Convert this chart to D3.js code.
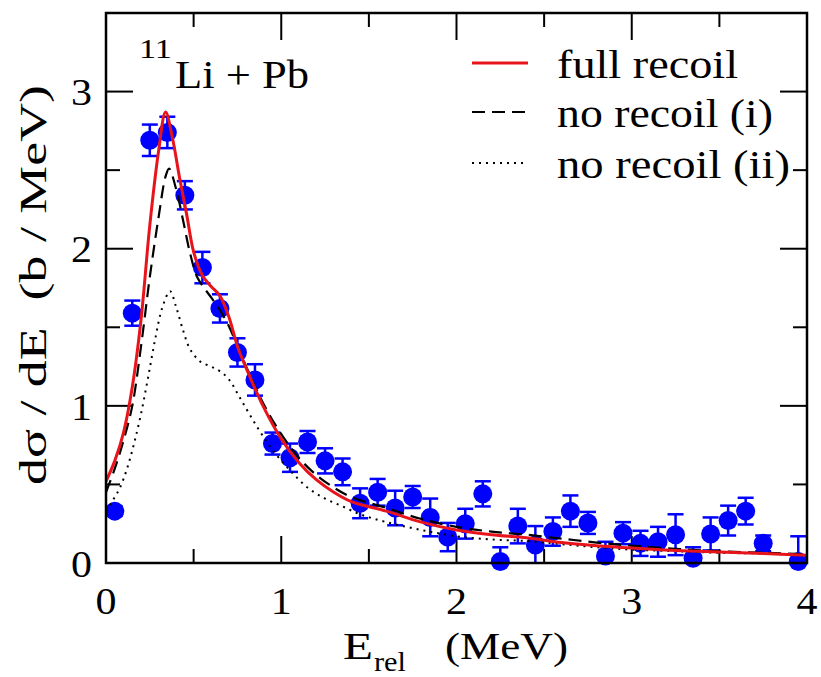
<!DOCTYPE html>
<html>
<head>
<meta charset="utf-8">
<script src="https://cdn.jsdelivr.net/npm/d3@7"></script>
<style>
  html, body { margin: 0; padding: 0; background: #fff; }
  svg { display: block; }
  text { font-family: "Liberation Serif", "Tinos", "Times New Roman", "Nimbus Roman", "FreeSerif", "DejaVu Serif", serif; fill: #000; }
</style>
</head>
<body>
<svg id="chart" width="821" height="677"></svg>
<script>
// ---- Data ----
const dataE = [0.05,0.15,0.25,0.35,0.45,0.55,0.65,0.75,0.85,0.95,1.05,1.15,1.25,1.35,1.45,1.55,1.65,1.75,1.85,1.95,2.05,2.15,2.25,2.35,2.45,2.55,2.65,2.75,2.85,2.95,3.05,3.15,3.25,3.35,3.45,3.55,3.65,3.75,3.95];
const dataY = [0.33,1.59,2.69,2.74,2.34,1.88,1.62,1.34,1.165,0.76,0.67,0.77,0.65,0.58,0.38,0.45,0.35,0.42,0.29,0.165,0.25,0.44,0.01,0.235,0.115,0.20,0.33,0.255,0.045,0.19,0.125,0.135,0.18,0.03,0.185,0.27,0.33,0.125,0.01];
const dataErr = [0.03,0.08,0.10,0.10,0.09,0.10,0.09,0.09,0.10,0.07,0.09,0.07,0.08,0.085,0.095,0.085,0.11,0.07,0.12,0.09,0.095,0.08,0.09,0.11,0.12,0.09,0.10,0.07,0.09,0.07,0.08,0.095,0.13,0.07,0.105,0.095,0.085,0.05,0.16];

const fullE = [0,0.05,0.10,0.15,0.20,0.25,0.30,0.34,0.38,0.42,0.46,0.50,0.55,0.60,0.65,0.70,0.75,0.80,0.90,1.00,1.10,1.20,1.30,1.40,1.60,1.80,2.00,2.20,2.40,2.60,2.80,3.00,3.25,3.50,3.75,4.00];
const fullY = [0.52,0.65,0.83,1.12,1.55,2.15,2.62,2.87,2.70,2.45,2.22,1.98,1.83,1.76,1.70,1.57,1.38,1.24,0.99,0.79,0.64,0.53,0.45,0.39,0.33,0.26,0.21,0.18,0.16,0.13,0.11,0.095,0.08,0.07,0.06,0.05];

const noRecoil1E = [0,0.05,0.10,0.15,0.20,0.25,0.30,0.34,0.36,0.40,0.44,0.48,0.52,0.56,0.60,0.65,0.70,0.75,0.80,0.90,1.00,1.10,1.20,1.30,1.40,1.60,1.80,2.00,2.20,2.40,2.60,2.80,3.00,3.25,3.50,3.75,4.00];
const noRecoil1Y = [0.45,0.60,0.78,1.00,1.38,1.82,2.20,2.46,2.51,2.38,2.18,1.97,1.82,1.75,1.69,1.61,1.51,1.38,1.25,1.01,0.82,0.67,0.56,0.48,0.42,0.35,0.28,0.23,0.20,0.18,0.155,0.13,0.11,0.09,0.075,0.065,0.055];

const noRecoil2E = [0,0.04,0.08,0.12,0.16,0.20,0.24,0.28,0.32,0.365,0.40,0.44,0.48,0.54,0.60,0.65,0.70,0.77,0.86,0.95,1.05,1.15,1.25,1.35,1.45,1.60,1.80,2.00,2.20,2.40,2.60,2.80,3.00,3.25,3.50,3.75,4.00];
const noRecoil2Y = [0.33,0.40,0.48,0.60,0.76,0.95,1.18,1.42,1.62,1.73,1.63,1.48,1.36,1.28,1.25,1.22,1.17,1.04,0.87,0.72,0.59,0.48,0.41,0.36,0.31,0.26,0.21,0.17,0.15,0.14,0.12,0.10,0.085,0.075,0.065,0.06,0.05];

const xTicks = [0,1,2,3,4];
const yTicks = [0,1,2,3];
const legendLabels = ["full recoil", "no recoil (i)", "no recoil (ii)"];

// ---- Layout ----
const svg = d3.select("#chart");
const L = 106, R = 807, T = 13, B = 563;
const x = d3.scaleLinear().domain([0,4]).range([L,R]);
const y = d3.scaleLinear().domain([0,3.5]).range([B,T]);

const blue = "#0000ff", red = "#e8141c";

svg.append("clipPath").attr("id","clip").append("rect")
  .attr("x",L).attr("y",T).attr("width",R-L).attr("height",B-T);

// ---- Ticks (inward, on all four sides) ----
const major = 27, minor = 14;
const tickG = svg.append("g").attr("stroke","#000").attr("stroke-width",2);
d3.range(0, 4.001, 0.5).forEach(v => {
  const len = Math.abs(v - Math.round(v)) < 1e-6 ? major : minor;
  if (v > 0 && v < 4) {
    tickG.append("line").attr("x1",x(v)).attr("x2",x(v)).attr("y1",B).attr("y2",B-len);
    tickG.append("line").attr("x1",x(v)).attr("x2",x(v)).attr("y1",T).attr("y2",T+len);
  }
});
d3.range(0, 3.501, 0.5).forEach(v => {
  const len = Math.abs(v - Math.round(v)) < 1e-6 ? major : minor;
  if (v > 0 && v < 3.5) {
    tickG.append("line").attr("x1",L).attr("x2",L+len).attr("y1",y(v)).attr("y2",y(v));
    tickG.append("line").attr("x1",R).attr("x2",R-len).attr("y1",y(v)).attr("y2",y(v));
  }
});

// tick labels
svg.append("g").selectAll("text").data(xTicks).join("text")
  .attr("x", d => x(d)).attr("y", 614)
  .attr("text-anchor","middle").attr("font-size",38)
  .attr("textLength",21).attr("lengthAdjust","spacingAndGlyphs")
  .text(d => d);
svg.append("g").selectAll("text").data(yTicks).join("text")
  .attr("x", 92).attr("y", d => y(d)).attr("dy","0.36em")
  .attr("text-anchor","end").attr("font-size",38)
  .attr("textLength",21).attr("lengthAdjust","spacingAndGlyphs")
  .text(d => d);

// ---- Data points with error bars ----
const pts = dataE.map((e,i) => ({e, v: dataY[i], err: dataErr[i]}));
const ptG = svg.append("g").attr("clip-path","url(#clip)");
const cap = 8;
const eb = ptG.append("g").attr("stroke",blue).attr("stroke-width",2.5);
pts.forEach(p => {
  eb.append("line").attr("x1",x(p.e)).attr("x2",x(p.e)).attr("y1",y(p.v+p.err)).attr("y2",y(p.v-p.err));
  eb.append("line").attr("x1",x(p.e)-cap).attr("x2",x(p.e)+cap).attr("y1",y(p.v+p.err)).attr("y2",y(p.v+p.err));
  eb.append("line").attr("x1",x(p.e)-cap).attr("x2",x(p.e)+cap).attr("y1",y(p.v-p.err)).attr("y2",y(p.v-p.err));
});
svg.append("g").selectAll("circle").data(pts).join("circle")
  .attr("cx", d => x(d.e)).attr("cy", d => y(d.v)).attr("r", 9.5)
  .attr("fill", blue);

// ---- Curves ----
const line = d3.line().x(d => x(d[0])).y(d => y(d[1])).curve(d3.curveCatmullRom.alpha(0.5));
const curveG = svg.append("g").attr("clip-path","url(#clip)").attr("fill","none");
curveG.append("path").datum(noRecoil2E.map((e,i)=>[e,noRecoil2Y[i]]))
  .attr("d", line).attr("stroke","#000").attr("stroke-width",2).attr("stroke-dasharray","2,5");
curveG.append("path").datum(noRecoil1E.map((e,i)=>[e,noRecoil1Y[i]]))
  .attr("d", line).attr("stroke","#000").attr("stroke-width",2.2).attr("stroke-dasharray","13,7");
curveG.append("path").datum(fullE.map((e,i)=>[e,fullY[i]]))
  .attr("d", line).attr("stroke",red).attr("stroke-width",3);

// ---- Frame ----
svg.append("rect").attr("x",L).attr("y",T).attr("width",R-L).attr("height",B-T)
  .attr("fill","none").attr("stroke","#000").attr("stroke-width",2.5);

// ---- Legend ----
const legY = [63, 112, 163];
const legW = [181, 216, 233];
const legStyles = [
  {stroke: red, w: 3, dash: null},
  {stroke: "#000", w: 2.2, dash: "13,7"},
  {stroke: "#000", w: 2, dash: "2,5"}
];
const legG = svg.append("g");
legendLabels.forEach((lab,i) => {
  const ln = legG.append("line").attr("x1",472).attr("x2",528).attr("y1",legY[i]).attr("y2",legY[i])
    .attr("stroke",legStyles[i].stroke).attr("stroke-width",legStyles[i].w);
  if (legStyles[i].dash) ln.attr("stroke-dasharray",legStyles[i].dash);
  legG.append("text").attr("x",557).attr("y",legY[i]+15).attr("font-size",41)
    .attr("textLength",legW[i]).attr("lengthAdjust","spacingAndGlyphs").text(lab);
});

// ---- Reaction label ----
svg.append("text").attr("x",139).attr("y",58).attr("font-size",28)
  .attr("textLength",33).attr("lengthAdjust","spacingAndGlyphs").text("11");
svg.append("text").attr("x",175).attr("y",88).attr("font-size",41)
  .attr("textLength",134).attr("lengthAdjust","spacingAndGlyphs").text("Li + Pb");

// ---- Axis titles ----
svg.append("text").attr("x",343).attr("y",659).attr("font-size",38)
  .attr("textLength",30).attr("lengthAdjust","spacingAndGlyphs").text("E");
svg.append("text").attr("x",374).attr("y",671).attr("font-size",27)
  .attr("textLength",32).attr("lengthAdjust","spacingAndGlyphs").text("rel");
svg.append("text").attr("x",445).attr("y",659).attr("font-size",38)
  .attr("textLength",123).attr("lengthAdjust","spacingAndGlyphs").text("(MeV)");

svg.append("text")
  .attr("transform","translate(46,285) rotate(-90)")
  .attr("text-anchor","middle").attr("font-size",38)
  .attr("xml:space","preserve")
  .attr("textLength",400).attr("lengthAdjust","spacingAndGlyphs")
  .text("dσ / dE  (b / MeV)");
</script>
</body>
</html>
